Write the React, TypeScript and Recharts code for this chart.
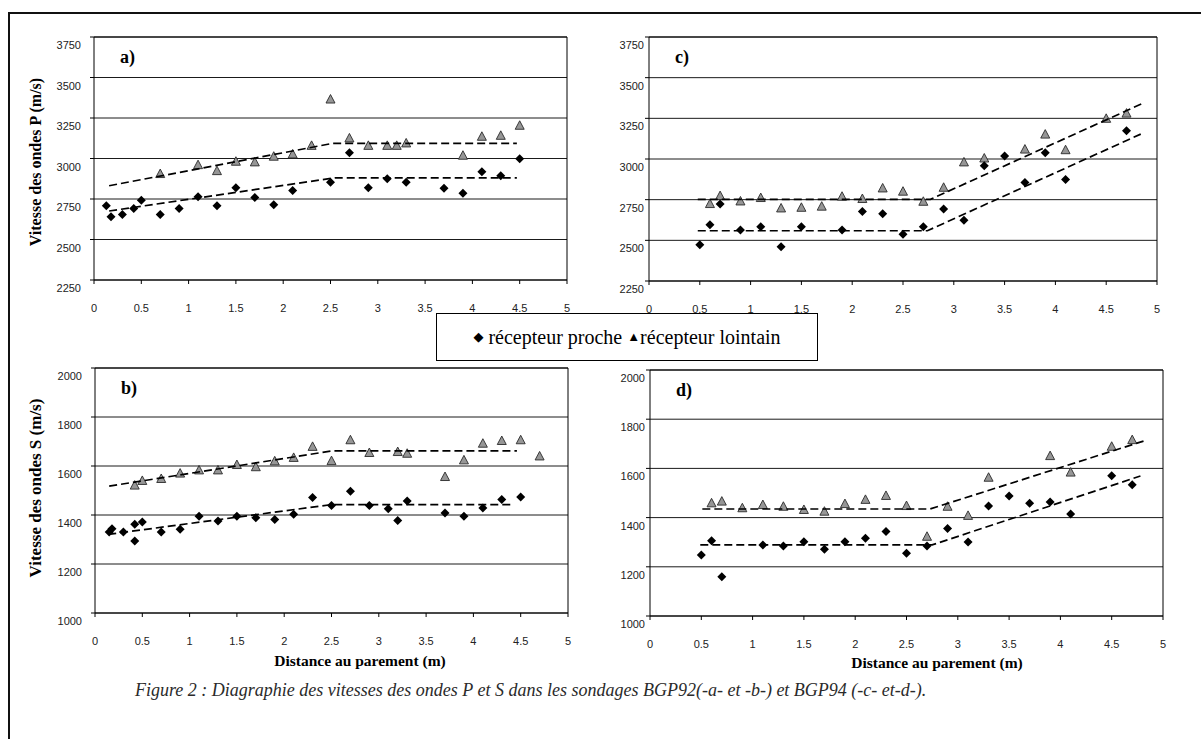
import React from 'react';
import {
  ScatterChart,
  Scatter,
  XAxis,
  YAxis,
  CartesianGrid,
  ReferenceLine,
} from 'recharts';

const SANS = '"Liberation Sans", Arial, sans-serif';
const SERIF = '"Liberation Serif", "Times New Roman", "DejaVu Serif", serif';

// distances (m) shared by every panel
const X_TICKS = [0, 0.5, 1, 1.5, 2, 2.5, 3, 3.5, 4, 4.5, 5];
const P_TICKS = [2250, 2500, 2750, 3000, 3250, 3500, 3750];
const S_TICKS = [1000, 1200, 1400, 1600, 1800, 2000];

// a) BGP92, ondes P  [distance, vitesse]
const A_NEAR = [
  [0.13, 2709], [0.18, 2641], [0.3, 2655], [0.42, 2692], [0.5, 2742],
  [0.7, 2655], [0.9, 2692], [1.1, 2764], [1.3, 2709], [1.5, 2820],
  [1.7, 2760], [1.9, 2715], [2.1, 2803], [2.5, 2854], [2.7, 3035],
  [2.9, 2820], [3.1, 2875], [3.3, 2854], [3.7, 2817], [3.9, 2785],
  [4.1, 2918], [4.3, 2893], [4.5, 2998],
];
const A_FAR = [
  [0.7, 2904], [1.1, 2959], [1.3, 2922], [1.5, 2980], [1.7, 2976],
  [1.9, 3011], [2.1, 3025], [2.3, 3078], [2.5, 3364], [2.7, 3124],
  [2.9, 3078], [3.1, 3078], [3.2, 3078], [3.3, 3093], [3.9, 3017],
  [4.1, 3134], [4.3, 3140], [4.5, 3202],
];
const A_NEAR_TREND = [[0.16, 2676], [2.55, 2881], [4.47, 2881]];
const A_FAR_TREND = [[0.16, 2832], [2.52, 3093], [4.47, 3093]];

// b) BGP92, ondes S
const B_NEAR = [
  [0.15, 1331], [0.18, 1344], [0.3, 1331], [0.42, 1362], [0.42, 1294],
  [0.5, 1371], [0.7, 1331], [0.9, 1342], [1.1, 1395], [1.3, 1376],
  [1.5, 1395], [1.7, 1389], [1.9, 1382], [2.1, 1403], [2.3, 1471],
  [2.5, 1439], [2.7, 1497], [2.9, 1439], [3.1, 1426], [3.2, 1378],
  [3.3, 1457], [3.7, 1408], [3.9, 1395], [4.1, 1429], [4.3, 1463],
  [4.5, 1473],
];
const B_FAR = [
  [0.42, 1520], [0.5, 1539], [0.7, 1547], [0.9, 1569], [1.1, 1582],
  [1.3, 1582], [1.5, 1604], [1.7, 1595], [1.9, 1619], [2.1, 1633],
  [2.3, 1678], [2.5, 1620], [2.7, 1705], [2.9, 1653], [3.2, 1657],
  [3.3, 1650], [3.7, 1555], [3.9, 1623], [4.1, 1691], [4.3, 1702],
  [4.5, 1705], [4.7, 1639],
];
const B_NEAR_TREND = [[0.14, 1321], [2.49, 1442], [4.41, 1442]];
const B_FAR_TREND = [[0.15, 1518], [2.51, 1662], [4.46, 1662]];

// c) BGP94, ondes P
const C_NEAR = [
  [0.5, 2473], [0.6, 2596], [0.7, 2723], [0.9, 2563], [1.1, 2584],
  [1.3, 2461], [1.5, 2584], [1.9, 2563], [2.1, 2678], [2.3, 2664],
  [2.5, 2537], [2.7, 2584], [2.9, 2692], [3.1, 2623], [3.3, 2958],
  [3.5, 3018], [3.7, 2856], [3.9, 3038], [4.1, 2874], [4.7, 3173],
];
const C_FAR = [
  [0.6, 2723], [0.7, 2772], [0.9, 2739], [1.1, 2760], [1.3, 2696],
  [1.5, 2700], [1.7, 2707], [1.9, 2768], [2.1, 2754], [2.3, 2819],
  [2.5, 2799], [2.7, 2737], [2.9, 2823], [3.1, 2979], [3.3, 3003],
  [3.7, 3058], [3.9, 3150], [4.1, 3054], [4.5, 3247], [4.7, 3279],
];
const C_NEAR_TREND = [[0.48, 2559], [2.74, 2559], [4.84, 3153]];
const C_FAR_TREND = [[0.48, 2752], [2.77, 2752], [4.87, 3345]];

// d) BGP94, ondes S
const D_NEAR = [
  [0.5, 1248], [0.6, 1306], [0.7, 1160], [1.1, 1289], [1.3, 1285],
  [1.5, 1302], [1.7, 1271], [1.9, 1302], [2.1, 1316], [2.3, 1343],
  [2.5, 1255], [2.7, 1285], [2.9, 1356], [3.1, 1301], [3.3, 1447],
  [3.5, 1488], [3.7, 1458], [3.9, 1463], [4.1, 1415], [4.5, 1570],
  [4.7, 1534],
];
const D_FAR = [
  [0.6, 1458], [0.7, 1465], [0.9, 1438], [1.1, 1451], [1.3, 1444],
  [1.5, 1431], [1.7, 1424], [1.9, 1455], [2.1, 1472], [2.3, 1488],
  [2.5, 1447], [2.7, 1322], [2.9, 1444], [3.1, 1407], [3.3, 1562],
  [3.9, 1650], [4.1, 1583], [4.5, 1688], [4.7, 1715],
];
const D_NEAR_TREND = [[0.49, 1289], [2.75, 1289], [4.78, 1569]];
const D_FAR_TREND = [[0.51, 1435], [2.73, 1435], [4.81, 1711]];

const toPts = (arr: number[][]) => arr.map(([x, y]) => ({ x, y }));

const Diamond = (props: any) => {
  const { cx, cy } = props;
  if (cx == null || cy == null) return <g />;
  const r = 4.5;
  return (
    <polygon
      points={`${cx},${cy - r} ${cx + r},${cy} ${cx},${cy + r} ${cx - r},${cy}`}
      fill="#000"
    />
  );
};

const Triangle = (props: any) => {
  const { cx, cy } = props;
  if (cx == null || cy == null) return <g />;
  return (
    <polygon
      points={`${cx},${cy - 5} ${cx + 4.5},${cy + 3.5} ${cx - 4.5},${cy + 3.5}`}
      fill="#969696"
      stroke="#2a2a2a"
      strokeWidth={0.9}
    />
  );
};

const NoDot = () => <g />;

function XTick({ x, y, payload }: any) {
  return (
    <text x={x} y={y + 22} textAnchor="middle" dominantBaseline="central"
      fontFamily={SANS} fontSize={11} fill="#222">
      {String(payload.value)}
    </text>
  );
}

function YTick({ x, y, payload, gap }: any) {
  return (
    <text x={x + 4 - gap} y={y + 8} textAnchor="end" dominantBaseline="central"
      fontFamily={SANS} fontSize={11} fill="#222">
      {payload.value}
    </text>
  );
}

const PANELS = [
  { id: 'a', box: { x0: 94, x1: 567, y0: 37, y1: 280 }, yDomain: [2250, 3750], yTicks: P_TICKS,
    near: A_NEAR, far: A_FAR, nearTrend: A_NEAR_TREND, farTrend: A_FAR_TREND, gap: 13 },
  { id: 'c', box: { x0: 649, x1: 1157, y0: 37, y1: 281 }, yDomain: [2250, 3750], yTicks: P_TICKS,
    near: C_NEAR, far: C_FAR, nearTrend: C_NEAR_TREND, farTrend: C_FAR_TREND, gap: 5 },
  { id: 'b', box: { x0: 95, x1: 568, y0: 368, y1: 613 }, yDomain: [1000, 2000], yTicks: S_TICKS,
    near: B_NEAR, far: B_FAR, nearTrend: B_NEAR_TREND, farTrend: B_FAR_TREND, gap: 13 },
  { id: 'd', box: { x0: 650, x1: 1163, y0: 370, y1: 616 }, yDomain: [1000, 2000], yTicks: S_TICKS,
    near: D_NEAR, far: D_FAR, nearTrend: D_NEAR_TREND, farTrend: D_FAR_TREND, gap: 5 },
];

const TREND_LINE = { stroke: '#000', strokeWidth: 1.7, strokeDasharray: '8 4' };

function Panel({ cfg }: any) {
  const { box } = cfg;
  const L = 70, T = 10, R = 12, B = 45;
  const w = box.x1 - box.x0 + L + R;
  const h = box.y1 - box.y0 + T + B;
  return (
    <div style={{ position: 'absolute', left: box.x0 - L, top: box.y0 - T }}>
      <ScatterChart width={w} height={h} margin={{ top: T, right: R, bottom: 0, left: 0 }}>
        <CartesianGrid vertical={false} stroke="#1a1a1a" strokeWidth={1} />
        <XAxis type="number" dataKey="x" domain={[0, 5]} ticks={X_TICKS} interval={0}
          height={B} tickSize={4} axisLine={{ stroke: '#000' }} tickLine={{ stroke: '#000' }}
          tick={(p: any) => <XTick {...p} />} />
        <YAxis type="number" dataKey="y" domain={cfg.yDomain} ticks={cfg.yTicks} interval={0}
          width={L} tickSize={4} tickMargin={0} axisLine={{ stroke: '#000' }} tickLine={{ stroke: '#000' }}
          tick={(p: any) => <YTick {...p} gap={cfg.gap} />} />
        <ReferenceLine x={5} stroke="#000" />
        <ReferenceLine y={cfg.yDomain[1]} stroke="#000" />
        <Scatter data={toPts(cfg.far)} shape={Triangle} isAnimationActive={false} />
        <Scatter data={toPts(cfg.near)} shape={Diamond} isAnimationActive={false} />
        <Scatter data={toPts(cfg.farTrend)} line={TREND_LINE} shape={NoDot} isAnimationActive={false} />
        <Scatter data={toPts(cfg.nearTrend)} line={TREND_LINE} shape={NoDot} isAnimationActive={false} />
      </ScatterChart>
      <div style={{ position: 'absolute', left: L + 26, top: T + 10, fontFamily: SERIF,
        fontWeight: 'bold', fontSize: 18, lineHeight: '20px' }}>
        {cfg.id})
      </div>
    </div>
  );
}

const abs = (s: React.CSSProperties): React.CSSProperties => ({ position: 'absolute', ...s });

export default function App() {
  return (
    <div style={abs({ left: 0, top: 0, width: 1201, height: 739, background: '#fff', overflow: 'hidden' })}>
      <div style={abs({ left: 8, top: 12, width: 1193, height: 0, borderTop: '2px solid #111' })} />
      <div style={abs({ left: 8, top: 12, width: 0, height: 727, borderLeft: '2px solid #111' })} />

      {PANELS.map((p) => <Panel key={p.id} cfg={p} />)}

      <div style={abs({ left: 36, top: 162, transform: 'translate(-50%, -50%) rotate(-90deg)',
        whiteSpace: 'nowrap', fontFamily: SERIF, fontWeight: 'bold', fontSize: 16 })}>
        Vitesse des ondes P (m/s)
      </div>
      <div style={abs({ left: 36, top: 488, transform: 'translate(-50%, -50%) rotate(-90deg)',
        whiteSpace: 'nowrap', fontFamily: SERIF, fontWeight: 'bold', fontSize: 17 })}>
        Vitesse des ondes S (m/s)
      </div>

      <div style={abs({ left: 360, top: 661, transform: 'translate(-50%, -50%)', whiteSpace: 'nowrap',
        fontFamily: SERIF, fontWeight: 'bold', fontSize: 15.5 })}>
        Distance au parement (m)
      </div>
      <div style={abs({ left: 937, top: 663, transform: 'translate(-50%, -50%)', whiteSpace: 'nowrap',
        fontFamily: SERIF, fontWeight: 'bold', fontSize: 15.5 })}>
        Distance au parement (m)
      </div>

      <div style={abs({ left: 436, top: 313, width: 382, height: 48, boxSizing: 'border-box',
        border: '1.5px solid #000', background: '#fff', display: 'flex', alignItems: 'center',
        justifyContent: 'center', fontFamily: SERIF, fontSize: 20, whiteSpace: 'nowrap' })}>
        <span style={{ fontSize: 13 }}>◆</span>&nbsp;récepteur proche&nbsp;<span style={{ fontSize: 13 }}>▲</span>récepteur lointain
      </div>

      <div style={abs({ left: 135, top: 680, whiteSpace: 'nowrap', fontFamily: SERIF, fontStyle: 'italic',
        fontSize: 18, color: '#2a2a2a' })}>
        Figure 2 : Diagraphie des vitesses des ondes P et S dans les sondages BGP92(-a- et -b-) et BGP94 (-c- et-d-).
      </div>
    </div>
  );
}
